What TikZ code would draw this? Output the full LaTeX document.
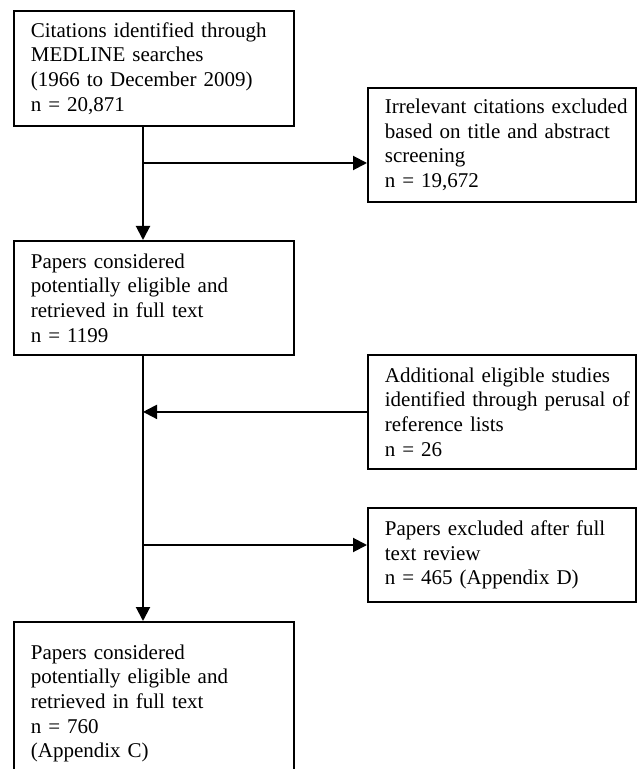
\documentclass[tikz,border=0pt]{standalone}
\usepackage{fontspec}
\setmainfont{Liberation Serif}
\usepackage{tikz}
\usetikzlibrary{arrows.meta}
\tikzset{%
  tipF/.tip={Triangle[width=7pt,length=7pt]},
  flowbox/.style={draw=black, line width=0.9pt, anchor=north west, align=left,
    inner xsep=2pt, inner ysep=2pt,
    font=\fontsize{10.5pt}{12.35pt}\selectfont,
    execute at begin node={\leftskip=6.5pt\relax}},
  leftbox/.style={flowbox, text width=136pt},
  rightbox/.style={flowbox, text width=130pt},
  flow/.style={line width=1pt, -tipF}
}

\begin{document}
\begin{tikzpicture}[x=0.5pt,y=-0.5pt]
\clip (0,0) rectangle (637,769);
% boxes
\node[leftbox, minimum height=57.5pt] (cites) at (13,10)
  {Citations identified through\\MEDLINE searches\\(1966 to December 2009)\\n = 20,871};
\node[rightbox, minimum height=57pt] (irrel) at (367,87)
  {Irrelevant citations excluded\\based on title and abstract\\screening\\n = 19,672};
\node[leftbox, minimum height=57pt] (cand) at (13,240)
  {Papers considered\\potentially eligible and\\retrieved in full text\\n = 1199};
\node[rightbox, minimum height=57pt] (addl) at (367,354)
  {Additional eligible studies\\identified through perusal of\\reference lists\\n = 26};
\node[rightbox, minimum height=47pt] (excl) at (367,507)
  {Papers excluded after full\\text review\\n = 465 (Appendix D)};
\node[leftbox, minimum height=81.5pt] (final) at (13,621)
  {Papers considered\\potentially eligible and\\retrieved in full text\\n = 760\\(Appendix C)};
% trunk and branches
\coordinate (trunk) at (143,0);
\coordinate (brA) at (143,163);
\coordinate (brB) at (143,545);
\draw[flow] (cites.south -| trunk) -- (cand.north -| trunk);
\draw[flow] (brA) -- (brA -| irrel.west);
\draw[flow] (cand.south -| trunk) -- (final.north -| trunk);
\draw[flow] (addl.west) -- (addl.west -| trunk);
\draw[flow] (brB) -- (brB -| excl.west);
\end{tikzpicture}
\end{document}
